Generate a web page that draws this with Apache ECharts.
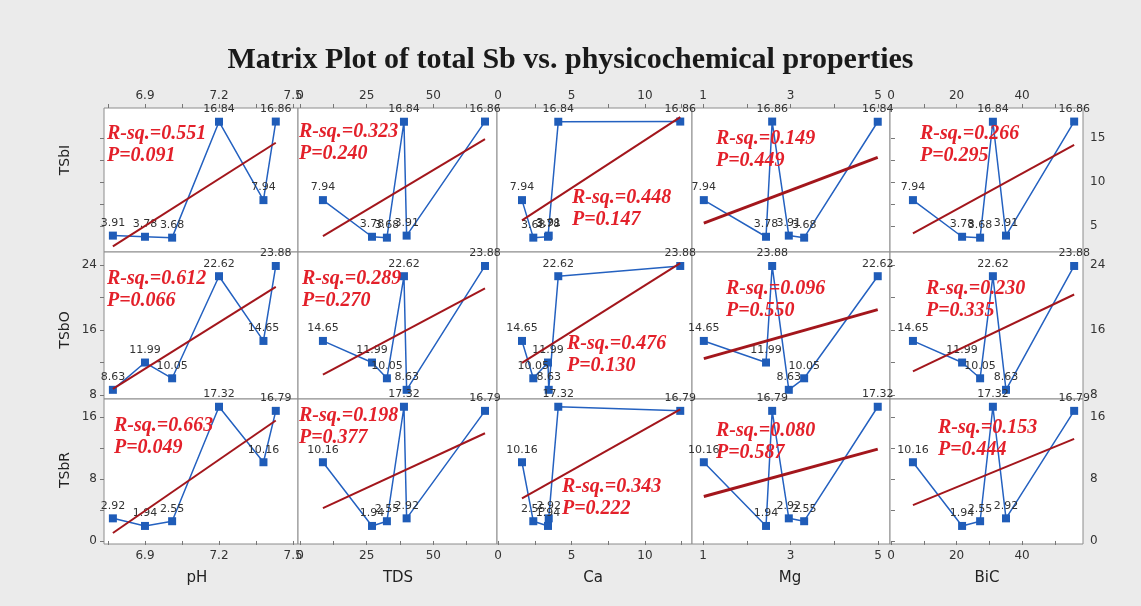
<!DOCTYPE html>
<html><head><meta charset="utf-8">
<script src="https://cdn.jsdelivr.net/npm/echarts@6/dist/echarts.min.js"></script>
<style>html,body{margin:0;padding:0;background:#ebebeb}#c{width:1141px;height:606px}</style>
</head><body><div id="c"></div>
<script>
// ---- data (samples ordered by pH) ----
const pH   = [6.77, 6.90, 7.01, 7.20, 7.38, 7.43];
const TDS  = [40.0, 27.0, 32.6, 39.0, 8.6, 69.4];
const Ca   = [3.45, 3.40, 2.40, 4.10, 1.63, 12.40];
const Mg   = [2.96, 2.44, 3.31, 4.99, 1.02, 2.58];
const BiC  = [35.1, 21.7, 27.2, 31.1, 6.7, 55.9];
const TSbI = [3.91, 3.78, 3.68, 16.84, 7.94, 16.86];
const TSbO = [8.63, 11.99, 10.05, 22.62, 14.65, 23.88];
const TSbR = [2.92, 1.94, 2.55, 17.32, 10.16, 16.79];

const xNames = ['pH', 'TDS', 'Ca', 'Mg', 'BiC'];
const yNames = ['TSbI', 'TSbO', 'TSbR'];
const rsq = [['0.551','0.323','0.448','0.149','0.266'],
             ['0.612','0.289','0.476','0.096','0.230'],
             ['0.663','0.198','0.343','0.080','0.153']];
const pval = [['0.091','0.240','0.147','0.449','0.295'],
              ['0.066','0.270','0.130','0.550','0.335'],
              ['0.049','0.377','0.222','0.587','0.444']];

const xTicks  = [[6.75,6.9,7.05,7.2,7.35,7.5],[0,12.5,25,37.5,50,62.5],[0,2.5,5,7.5,10,12.5],[1,2,3,4,5],[0,10,20,30,40,50]];
const xLabels = [[6.9,7.2,7.5],[0,25,50],[0,5,10],[1,3,5],[0,20,40]];
const yTicks  = [[5,7.5,10,12.5,15],[8,12,16,20,24],[0,4,8,12,16]];
const yLabels = [[5,10,15],[8,16,24],[0,8,16]];

// ---- layout ----
const xs = [pH, TDS, Ca, Mg, BiC];
const ys = [TSbI, TSbO, TSbR];
const xRange = [[6.734,7.52],[-0.75,73.9],[-0.07,13.2],[0.75,5.27],[-0.3,58.6]];
const yRange = [[2.05,18.4],[7.5,25.6],[-0.39,18.32]];
const colL = [104, 298, 497, 692, 890], colW = [194, 199, 195, 198, 193];
const rowT = [108, 252, 399], rowH = [144, 147, 145];
const annPos = [[[107,135],[299,133],[572,199],[716,140],[920,135]],
                [[107,280],[302,280],[567,345],[726,290],[926,290]],
                [[114,427],[299,417],[562,488],[716,432],[938,429]]];

const grids = [], xAxes = [], yAxes = [], series = [], graphics = [];
const tickFont = {fontFamily:'DejaVu Sans', fontSize:12, color:'#333'};

for (let r = 0; r < 3; r++) {
  for (let c = 0; c < 5; c++) {
    const g = r*5 + c;
    grids.push({left: colL[c], top: rowT[r], width: colW[c], height: rowH[r],
      show: true, backgroundColor: '#fff', borderColor: '#8c8c8c', borderWidth: 1});
    const showX = (r === 0 || r === 2);
    xAxes.push({gridIndex: g, type: 'value', min: xRange[c][0], max: xRange[c][1],
      position: r === 0 ? 'top' : 'bottom',
      axisLine: {show: false}, splitLine: {show: false},
      axisTick: {show: showX, customValues: xTicks[c], length: 4, lineStyle:{color:'#777'}},
      axisLabel: Object.assign({show: showX, customValues: xLabels[c], margin: 6}, tickFont)});
    const yPos = c === 4 ? 'right' : 'left';
    const showY = (c === 0 || c === 4);
    const showYL = (c === 4) || (c === 0 && r > 0);
    yAxes.push({gridIndex: g, type: 'value', min: yRange[r][0], max: yRange[r][1],
      position: yPos,
      axisLine: {show: false}, splitLine: {show: false},
      axisTick: {show: showY, customValues: yTicks[r], length: 4, lineStyle:{color:'#777'}},
      axisLabel: Object.assign({show: showYL, customValues: yLabels[r], margin: 7}, tickFont)});

    const X = xs[c], Y = ys[r];
    const pts = X.map((v, i) => [v, Y[i]]).sort((a, b) => a[0] - b[0]);
    series.push({type: 'line', xAxisIndex: g, yAxisIndex: g, data: pts,
      symbol: 'rect', symbolSize: 8, z: 3,
      lineStyle: {color: '#2461c0', width: 1.5}, itemStyle: {color: '#1f5cb8'},
      label: {show: true, position: 'top', distance: 3, fontSize: 11, fontFamily: 'DejaVu Sans',
        color: '#333', formatter: p => p.value[1].toFixed(2)}});

    // least-squares fit through the data
    const n = X.length;
    const mx = X.reduce((a,b)=>a+b,0)/n, my = Y.reduce((a,b)=>a+b,0)/n;
    let sxy = 0, sxx = 0;
    for (let i = 0; i < n; i++) { sxy += (X[i]-mx)*(Y[i]-my); sxx += (X[i]-mx)**2; }
    const b = sxy/sxx, a = my - b*mx;
    const x0 = Math.min(...X), x1 = Math.max(...X);
    series.push({type: 'line', xAxisIndex: g, yAxisIndex: g, data: [[x0, a+b*x0],[x1, a+b*x1]],
      symbol: 'none', z: 4, silent: true,
      lineStyle: {color: '#a3161c', width: c === 3 ? 3 : 2}});

    const [ax, ay] = annPos[r][c];
    const annStyle = {fill: '#e3202a', font: 'italic bold 20px "Liberation Serif"',
      textVerticalAlign: 'middle', shadowColor:'rgba(110,0,0,0.45)', shadowOffsetX:1, shadowOffsetY:1};
    graphics.push({type: 'text', left: ax, top: ay - 11, z: 10,
      style: Object.assign({text: 'R-sq.=' + rsq[r][c]}, annStyle)});
    graphics.push({type: 'text', left: ax, top: ay + 11, z: 10,
      style: Object.assign({text: 'P=' + pval[r][c]}, annStyle)});
  }
}

const xNameX = [197, 398, 593, 790, 987];
xNames.forEach((nm, c) => graphics.push({type: 'text', x: xNameX[c], y: 578,
  style: {text: nm, fill: '#222', font: '15px "DejaVu Sans"', textAlign: 'center', textVerticalAlign: 'middle'}}));
const yNameY = [160, 330, 470];
yNames.forEach((nm, r) => graphics.push({type: 'text', x: 65, y: yNameY[r], rotation: Math.PI/2,
  style: {text: nm, fill: '#222', font: '14px "DejaVu Sans"', textAlign: 'center', textVerticalAlign: 'middle'}}));

const chart = echarts.init(document.getElementById('c'));
chart.setOption({
  backgroundColor: '#ebebeb',
  animation: false,
  title: {text: 'Matrix Plot of total Sb vs. physicochemical properties', left: 'center', top: 40,
    textStyle: {fontFamily: 'Liberation Serif', fontWeight: 'bold', fontSize: 30, color: '#1a1a1a'}},
  grid: grids, xAxis: xAxes, yAxis: yAxes, series: series, graphic: graphics
});
</script></body></html>
